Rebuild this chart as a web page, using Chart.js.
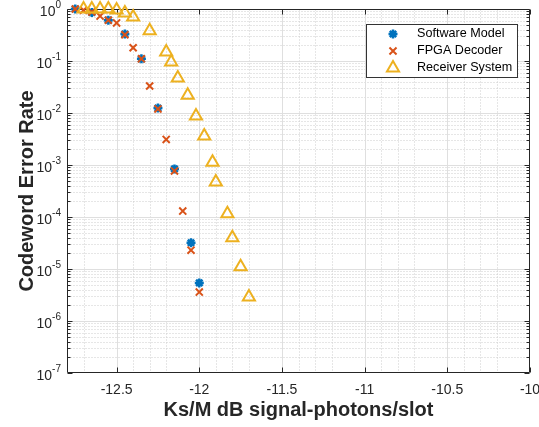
<!DOCTYPE html>
<html>
<head>
<meta charset="utf-8">
<script src="https://cdn.jsdelivr.net/npm/chart.js@4.4.0/dist/chart.umd.min.js"></script>
<style>
html, body { margin: 0; padding: 0; background: #fff; }
#wrap { width: 539px; height: 427px; }
</style>
</head>
<body>
<div id="wrap"><canvas id="berChart"></canvas></div>
<script>
// Datos
const xTicks = [-12.5, -12, -11.5, -11, -10.5, -10];
const yExponents = [0, -1, -2, -3, -4, -5, -6, -7];

const softwareX = [-12.75, -12.65, -12.55, -12.45, -12.35, -12.25, -12.15, -12.05, -12.0];
const softwareY = [1.0, 0.86, 0.61, 0.33, 0.11, 0.0125, 8.4e-4, 3.2e-5, 5.4e-6];

const fpgaX = [-12.75, -12.7, -12.65, -12.6, -12.55, -12.5, -12.45, -12.4, -12.35, -12.3, -12.25, -12.2, -12.15, -12.1, -12.05, -12.0];
const fpgaY = [1.0, 0.95, 0.88, 0.73, 0.61, 0.54, 0.32, 0.18, 0.11, 0.033, 0.012, 3.1e-3, 7.7e-4, 1.3e-4, 2.3e-5, 3.6e-6];

const receiverX = [-12.7, -12.65, -12.6, -12.55, -12.5, -12.45, -12.4, -12.3, -12.2, -12.17, -12.13, -12.07, -12.02, -11.97, -11.92, -11.9, -11.83, -11.8, -11.75, -11.7];
const receiverY = [1.0, 1.0, 1.0, 1.0, 0.96, 0.84, 0.70, 0.38, 0.149, 0.096, 0.047, 0.022, 0.0088, 0.0036, 0.00113, 4.7e-4, 1.15e-4, 4.0e-5, 1.1e-5, 2.9e-6];

const FONT = "'Liberation Sans', Arial, sans-serif";
Chart.defaults.font.family = FONT;
Chart.defaults.color = '#262626';

const toPoints = (xs, ys) => xs.map((x, i) => ({ x: x, y: ys[i] }));

// Rejilla, marco y marcas al estilo MATLAB
const matlabAxes = {
    id: 'matlabAxes',
    beforeDatasetsDraw(chart) {
        const { ctx, chartArea: a, scales: { x, y } } = chart;
        const L = Math.round(a.left) + 0.5, R = Math.round(a.right) - 0.5;
        const T = Math.round(a.top) + 0.5, B = Math.round(a.bottom) - 0.5;
        const px = v => Math.round(x.getPixelForValue(v)) + 0.5;
        const py = v => Math.round(y.getPixelForValue(v)) + 0.5;
        ctx.save();

        // rejilla menor (punteada)
        ctx.lineWidth = 1;
        ctx.strokeStyle = '#cdcdcd';
        ctx.setLineDash([1, 2]);
        ctx.beginPath();
        for (let k = 1; k < 28; k++) {
            if (k % 5 === 2) continue; // coincide con marca mayor
            const xx = px(-12.8 + k * 0.1);
            ctx.moveTo(xx, T); ctx.lineTo(xx, B);
        }
        for (let e = -7; e < 0; e++) {
            for (let m = 2; m <= 9; m++) {
                const yy = py(m * Math.pow(10, e));
                ctx.moveTo(L, yy); ctx.lineTo(R, yy);
            }
        }
        ctx.stroke();

        // rejilla mayor
        ctx.setLineDash([]);
        ctx.strokeStyle = '#dfdfdf';
        ctx.beginPath();
        xTicks.forEach(v => { const xx = px(v); if (xx > L + 1 && xx < R - 1) { ctx.moveTo(xx, T); ctx.lineTo(xx, B); } });
        yExponents.forEach(e => { const yy = py(Math.pow(10, e)); if (yy > T + 1 && yy < B - 1) { ctx.moveTo(L, yy); ctx.lineTo(R, yy); } });
        ctx.stroke();

        // marco y marcas
        ctx.strokeStyle = '#262626';
        ctx.beginPath();
        ctx.rect(L, T, R - L, B - T);
        xTicks.forEach(v => {
            const xx = px(v);
            ctx.moveTo(xx, B); ctx.lineTo(xx, B - 5);
            ctx.moveTo(xx, T); ctx.lineTo(xx, T + 5);
        });
        yExponents.forEach(e => {
            const yy = py(Math.pow(10, e));
            ctx.moveTo(L, yy); ctx.lineTo(L + 5, yy);
            ctx.moveTo(R, yy); ctx.lineTo(R - 5, yy);
        });
        for (let e = -7; e < 0; e++) {
            for (let m = 2; m <= 9; m++) {
                const yy = py(m * Math.pow(10, e));
                ctx.moveTo(L, yy); ctx.lineTo(L + 3, yy);
                ctx.moveTo(R, yy); ctx.lineTo(R - 3, yy);
            }
        }
        ctx.stroke();

        // etiquetas del eje y con superíndice
        ctx.fillStyle = '#262626';
        ctx.textBaseline = 'middle';
        yExponents.forEach(e => {
            const yy = y.getPixelForValue(Math.pow(10, e));
            const sup = String(e);
            ctx.font = '10px ' + FONT;
            const sw = ctx.measureText(sup).width;
            const right = a.left - 6;
            ctx.textAlign = 'left';
            ctx.fillText(sup, right - sw, yy - 4);
            ctx.font = '14px ' + FONT;
            ctx.textAlign = 'right';
            ctx.fillText('10', right - sw, yy + 3);
        });
        ctx.restore();
    }
};

// Leyenda dentro del área del gráfico
const insideLegend = {
    id: 'insideLegend',
    afterDatasetsDraw(chart) {
        const { ctx } = chart;
        const box = { left: 366.5, top: 24.5, right: 517.5, bottom: 77.5 };
        ctx.save();
        ctx.fillStyle = '#ffffff';
        ctx.strokeStyle = '#333333';
        ctx.lineWidth = 1;
        ctx.fillRect(box.left, box.top, box.right - box.left, box.bottom - box.top);
        ctx.strokeRect(box.left, box.top, box.right - box.left, box.bottom - box.top);
        chart.data.datasets.forEach((ds, i) => {
            const rowY = 34 + i * 17;
            ctx.lineWidth = ds.pointBorderWidth;
            ctx.strokeStyle = ds.pointBorderColor;
            ctx.fillStyle = ds.pointBackgroundColor;
            Chart.helpers.drawPoint(ctx, { pointStyle: ds.pointStyle, radius: ds.pointRadius, borderWidth: ds.pointBorderWidth, rotation: 0 }, 393, rowY);
            ctx.fillStyle = '#000000';
            ctx.font = '12.6px ' + FONT;
            ctx.textAlign = 'left';
            ctx.textBaseline = 'middle';
            ctx.fillText(ds.label, 417, rowY);
        });
        ctx.restore();
    }
};

const ctx = document.getElementById('berChart').getContext('2d');
const berChart = new Chart(ctx, {
    type: 'scatter',
    data: {
        datasets: [{
            label: 'Software Model',
            data: toPoints(softwareX, softwareY),
            pointStyle: 'star',
            pointRadius: 4.5,
            pointBorderWidth: 2.5,
            pointBorderColor: '#0072BD',
            pointBackgroundColor: '#0072BD',
            order: 3,
            clip: false
        }, {
            label: 'FPGA Decoder',
            data: toPoints(fpgaX, fpgaY),
            pointStyle: 'crossRot',
            pointRadius: 5,
            pointBorderWidth: 2,
            pointBorderColor: '#D95319',
            pointBackgroundColor: '#D95319',
            order: 2,
            clip: false
        }, {
            label: 'Receiver System',
            data: toPoints(receiverX, receiverY),
            pointStyle: 'triangle',
            pointRadius: 7,
            pointBorderWidth: 2,
            pointBorderColor: '#EDB120',
            pointBackgroundColor: 'rgba(0,0,0,0)',
            order: 1,
            clip: false
        }]
    },
    options: {
        responsive: true,
        maintainAspectRatio: false,
        animation: false,
        events: [],
        layout: { padding: { top: 9, right: 9, left: 0, bottom: 0 } },
        plugins: {
            legend: { display: false },
            tooltip: { enabled: false }
        },
        scales: {
            x: {
                type: 'linear',
                min: -12.8,
                max: -10,
                grid: { display: false, drawTicks: false },
                border: { display: false },
                afterBuildTicks: s => { s.ticks = xTicks.map(v => ({ value: v })); },
                afterFit: s => { s.height = 54; s.paddingLeft = 0; s.paddingRight = 0; },
                ticks: {
                    font: { size: 14 },
                    color: '#262626',
                    padding: 9,
                    maxRotation: 0,
                    autoSkip: false,
                    callback: v => String(v)
                },
                title: {
                    display: true,
                    text: 'Ks/M dB signal-photons/slot',
                    font: { size: 20, weight: 'bold' },
                    color: '#262626',
                    padding: { top: 0, bottom: 5 }
                }
            },
            y: {
                type: 'logarithmic',
                min: 1e-7,
                max: 1,
                grid: { display: false, drawTicks: false },
                border: { display: false },
                afterBuildTicks: s => { s.ticks = yExponents.map(e => ({ value: Math.pow(10, e) })); },
                afterFit: s => { s.width = 67; s.paddingTop = 0; s.paddingBottom = 0; },
                ticks: { display: false },
                title: {
                    display: true,
                    text: 'Codeword Error Rate',
                    font: { size: 20, weight: 'bold' },
                    color: '#262626',
                    padding: { top: 15, bottom: 0 }
                }
            }
        }
    },
    plugins: [matlabAxes, insideLegend]
});
</script>
</body>
</html>
